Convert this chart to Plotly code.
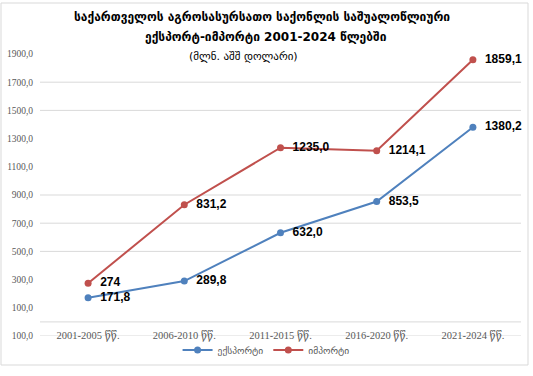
import plotly.graph_objects as go

categories = ["2001-2005 წწ.", "2006-2010 წწ.", "2011-2015 წწ.", "2016-2020 წწ.", "2021-2024 წწ."]
export_values = [171.8, 289.8, 632.0, 853.5, 1380.2]
import_values = [274.0, 831.2, 1235.0, 1214.1, 1859.1]
export_labels = ["171,8", "289,8", "632,0", "853,5", "1380,2"]
import_labels = ["274", "831,2", "1235,0", "1214,1", "1859,1"]
ytick_vals = [-100, 100, 300, 500, 700, 900, 1100, 1300, 1500, 1700, 1900]
ytick_text = ["100,0", "100,0", "300,0", "500,0", "700,0", "900,0", "1100,0", "1300,0", "1500,0", "1700,0", "1900,0"]
grid_vals = [-100, 0, 500, 700, 900, 1500, 1700]

BLUE = "#4F81BD"
RED = "#C0504D"
W, H = 533, 376
L, R, T, B = 40, 12, 54, 40
pw, ph = W - L - R, H - T - B

def px_x(px):
    return (px - L) / pw

def px_y(py):
    return (H - B - py) / ph

fig = go.Figure()
lab_font = dict(family="Liberation Sans, Arial, sans-serif", size=12, color="#000000", weight="bold")
fig.add_trace(go.Scatter(
    x=categories, y=export_values, name="ექსპორტი", mode="lines+markers+text",
    line=dict(color=BLUE, width=2), marker=dict(color=BLUE, size=7),
    text=export_labels, texttemplate="  %{text}", textposition="middle right", textfont=lab_font,
    cliponaxis=False,
))
fig.add_trace(go.Scatter(
    x=categories, y=import_values, name="იმპორტი", mode="lines+markers+text",
    line=dict(color=RED, width=2), marker=dict(color=RED, size=7),
    text=import_labels, texttemplate="  %{text}", textposition="middle right", textfont=lab_font,
    cliponaxis=False,
))

shapes = []
for g in grid_vals:
    shapes.append(dict(type="line", xref="paper", yref="y", x0=0, x1=1, y0=g, y1=g,
                       line=dict(color="#d9d9d9", width=1), layer="below"))
shapes.append(dict(type="rect", xref="paper", yref="paper",
                   x0=px_x(1), x1=px_x(528), y0=px_y(365), y1=px_y(3),
                   line=dict(color="#d9d9d9", width=1), layer="below"))

tick_font_x = dict(family="Liberation Serif, DejaVu Serif, DejaVu Sans, serif", size=10.5, color="#595959")
tick_font_y = dict(family="Liberation Serif, DejaVu Serif, serif", size=9.5, color="#595959")
geo_font = "DejaVu Sans, Noto Sans, sans-serif"

fig.update_layout(
    width=W, height=H,
    margin=dict(l=L, r=R, t=T, b=B, autoexpand=False),
    paper_bgcolor="white", plot_bgcolor="white",
    shapes=shapes,
    showlegend=True,
    legend=dict(orientation="h", x=0.47, xanchor="center", y=px_y(350), yanchor="middle",
                font=dict(family=geo_font, size=9.5, color="#595959"),
                itemwidth=30, bgcolor="rgba(0,0,0,0)"),
    xaxis=dict(type="category", showgrid=False, showline=False, zeroline=False,
               tickfont=tick_font_x, ticks="", ticklabelstandoff=-9,
               range=[-0.5, 4.5], automargin=False),
    yaxis=dict(range=[-100, 1900], tickvals=ytick_vals, ticktext=ytick_text,
               showgrid=False, zeroline=False, showline=False, ticks="",
               tickfont=tick_font_y, ticklabelstandoff=6, automargin=False),
    annotations=[
        dict(text="<b>საქართველოს აგროსასურსათო საქონლის საშუალოწლიური</b>",
             xref="paper", yref="paper", x=px_x(262), y=px_y(17), yanchor="middle",
             showarrow=False, font=dict(family=geo_font, size=12, color="#000000")),
        dict(text="<b>ექსპორტ-იმპორტი 2001-2024 წლებში</b>",
             xref="paper", yref="paper", x=px_x(266), y=px_y(37), yanchor="middle",
             showarrow=False, font=dict(family=geo_font, size=12, color="#000000")),
        dict(text="(მლნ. აშშ დოლარი)",
             xref="paper", yref="paper", x=px_x(243), y=px_y(56), yanchor="middle",
             showarrow=False, font=dict(family=geo_font, size=11, color="#000000")),
    ],
)

fig.write_html("out.html", config={"displayModeBar": False},
               post_script="document.body.style.margin='0';")
